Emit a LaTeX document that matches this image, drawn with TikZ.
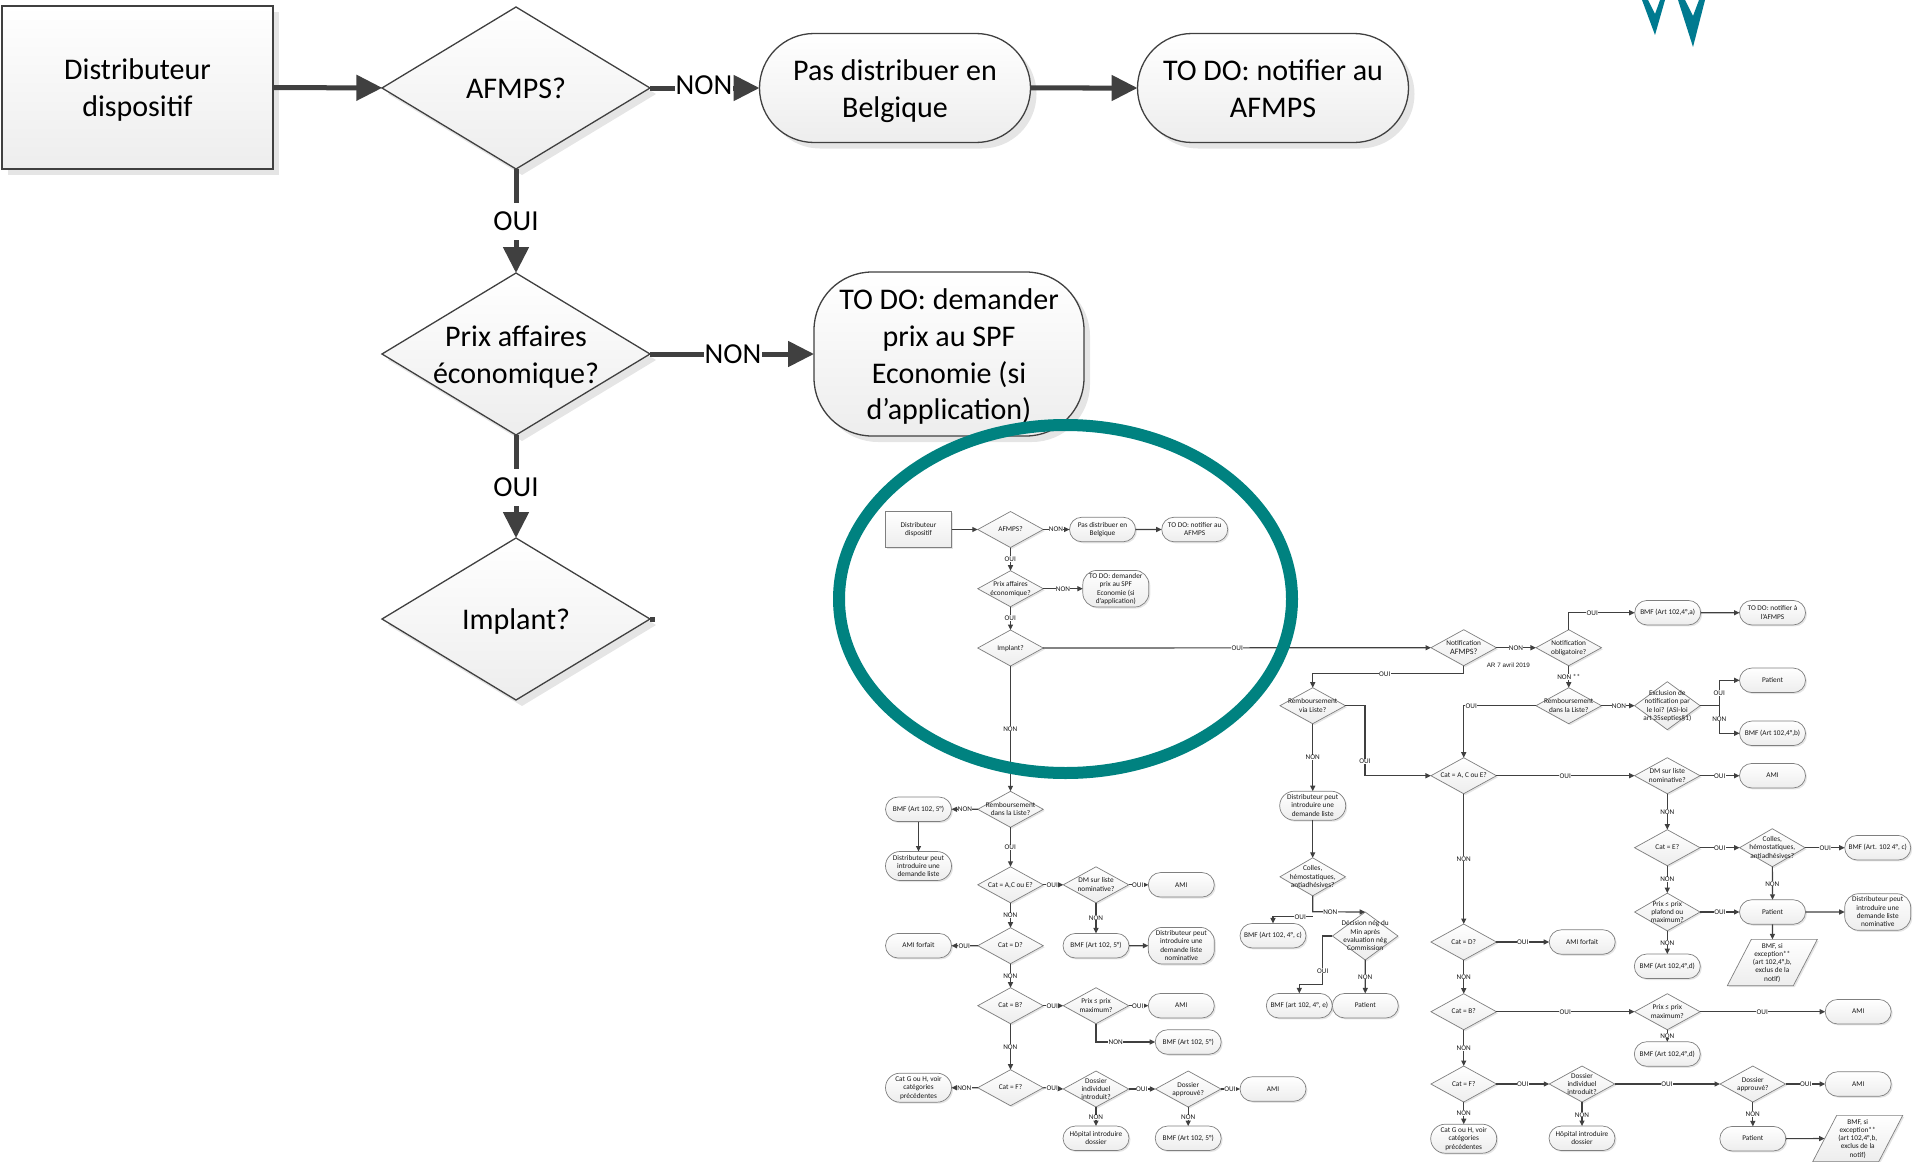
\documentclass[tikz,border=0pt]{standalone}
\usepackage{fontspec}
\usepackage{xcolor}
\setmainfont{Carlito}
\newfontfamily\arfont{Liberation Sans}
\usetikzlibrary{arrows.meta,shapes.geometric,shapes.misc,shadows}
\definecolor{CTEAL}{HTML}{008280}
\definecolor{CMARK}{HTML}{007A90}
\definecolor{CLINE}{HTML}{404040}
\definecolor{CEDGE}{HTML}{7F7F7F}
\definecolor{CFILL}{HTML}{EDEDED}
% text that does not change the size of its shape
\newcommand{\nt}[1]{\makebox[0pt]{\smash{\raisebox{-0.32em}{$\vcenter{\hbox{\begin{tabular}{@{}c@{}}#1\end{tabular}}}$}}}}
\tikzset{
  bigshape/.style={draw=CLINE,line width=1.3pt,top color=white,bottom color=CFILL,inner sep=0pt,outer sep=0pt,
    font=\fontsize{30}{36.6}\selectfont,drop shadow={shadow xshift=6pt,shadow yshift=-6pt,fill=black!10,opacity=1}},
  bigbox/.style={bigshape,shape=rectangle,minimum width=271pt,minimum height=163pt},
  bigdia/.style={bigshape,shape=diamond,minimum width=268pt,minimum height=162pt},
  bigend/.style={bigshape,shape=rounded rectangle,minimum width=271pt,minimum height=109pt},
  bigtall/.style={bigshape,shape=rectangle,rounded corners=58pt,minimum width=270pt,minimum height=164pt},
  bigline/.style={-{Triangle[length=26pt,width=25pt]},line width=5pt,draw=CLINE},
  biglab/.style={fill=white,inner sep=1pt,minimum height=37pt,font=\fontsize{29}{30}\selectfont},
  smallshape/.style={draw=CEDGE,line width=0.7pt,top color=white,bottom color=CFILL,inner sep=0pt,outer sep=0pt,
    text=black!90,font=\fontsize{7.3}{8.2}\selectfont,drop shadow={shadow xshift=1.5pt,shadow yshift=-1.5pt,fill=black!10,opacity=1}},
  sbox/.style={smallshape,shape=rectangle,minimum width=66pt,minimum height=36pt},
  sdia/.style={smallshape,shape=diamond,minimum width=65.5pt,minimum height=36pt},
  send/.style={smallshape,shape=rounded rectangle,minimum width=66pt,minimum height=24.5pt},
  smid/.style={smallshape,shape=rounded rectangle,minimum width=66pt,minimum height=29pt},
  stall/.style={smallshape,shape=rectangle,rounded corners=14pt,minimum width=66pt,minimum height=36.6pt},
  spara/.style={smallshape,shape=trapezium,trapezium left angle=62.6,trapezium right angle=117.4,inner xsep=21pt,inner ysep=23.15pt},
  sline/.style={-{Triangle[length=5.5pt,width=5pt]},line width=1.2pt,draw=CLINE},
  slab/.style={fill=white,inner sep=0.4pt,text=black!90,font=\fontsize{7.2}{8}\selectfont},
}
\begin{document}
\begin{tikzpicture}
\useasboundingbox (0pt,0pt) rectangle (1913pt,-1161.5pt);

% big flow
\node (n0) [bigbox,at={(137.5pt,-87.5pt)}] {\nt{Distributeur\\dispositif}};
\node (n1) [bigdia,at={(516pt,-88pt)}] {\nt{AFMPS?}};
\node (n2) [bigend,at={(895pt,-88pt)}] {\nt{Pas distribuer en\\Belgique}};
\node (n3) [bigend,at={(1273pt,-88pt)}] {\nt{TO DO: notifier au\\AFMPS}};
\node (n4) [bigdia,at={(516pt,-354pt)}] {\nt{Prix affaires\\économique?}};
\node (n5) [bigtall,at={(949pt,-354pt)}] {\nt{TO DO: demander\\prix au SPF\\Economie (si\\d’application)}};
\node (n6) [bigdia,at={(516pt,-619pt)}] {\nt{Implant?}};
\coordinate (n7) at (655pt,-619pt);

\path [bigline](n0)--(n1);
\path [bigline](n1)--(n2);
\path [bigline](n2)--(n3);
\path [bigline](n1)--(n4);
\path [bigline](n4)--(n5);
\path [bigline](n4)--(n6);
\path [line width=5pt,draw=CLINE](n6.east)--(n7);

\node (n12) [biglab,at={(704pt,-85pt)}] {NON};
\node (n14) [biglab,at={(516pt,-221pt)}] {OUI};
\node (n45) [biglab,at={(733pt,-354pt)}] {NON};
\node (n46) [biglab,at={(516pt,-487pt)}] {OUI};

% small flow, left
\node (a0) [sbox,at={(918.5pt,-529.5pt)}] {\nt{Distributeur\\dispositif}};
\node (a1) [sdia,at={(1010.5pt,-529.5pt)}] {\nt{AFMPS?}};
\node (a2) [send,at={(1102.5pt,-529.5pt)}] {\nt{Pas distribuer en\\Belgique}};
\node (a3) [send,at={(1194.7pt,-529.5pt)}] {\nt{TO DO: notifier au\\AFMPS}};
\node (a4) [sdia,at={(1010.5pt,-588.7pt)}] {\nt{Prix affaires\\économique?}};
\node (a5) [stall,at={(1115.8pt,-588.7pt)}] {\nt{TO DO: demander\\prix au SPF\\Economie (si\\d’application)}};
\node (a6) [sdia,at={(1010.5pt,-648pt)}] {\nt{Implant?}};
\node (a7) [sdia,at={(1010.5pt,-809.3pt)}] {\nt{Remboursement\\dans la Liste?}};
\node (a8) [send,at={(918.5pt,-809.3pt)}] {\nt{BMF (Art 102, 5°)}};
\node (a9) [smid,at={(918.5pt,-866pt)}] {\nt{Distributeur peut\\introduire une\\demande liste}};
\node (a10) [sdia,at={(1010.5pt,-884.8pt)}] {\nt{Cat = A,C ou E?}};
\node (a11) [sdia,at={(1096pt,-884.8pt)}] {\nt{DM sur liste\\nominative?}};
\node (a12) [send,at={(1181.3pt,-884.8pt)}] {\nt{AMI}};
\node (a13) [sdia,at={(1010.5pt,-945.7pt)}] {\nt{Cat = D?}};
\node (a14) [send,at={(918.5pt,-945.7pt)}] {\nt{AMI  forfait}};
\node (a15) [send,at={(1096pt,-945.7pt)}] {\nt{BMF (Art 102, 5°)}};
\node (a16) [stall,at={(1181.3pt,-945.7pt)}] {\nt{Distributeur peut\\introduire une\\demande liste\\nominative}};
\node (a17) [sdia,at={(1010.5pt,-1005.7pt)}] {\nt{Cat = B?}};
\node (a18) [sdia,at={(1096pt,-1005.7pt)}] {\nt{Prix  ≤ prix\\maximum?}};
\node (a19) [send,at={(1181.3pt,-1005.7pt)}] {\nt{AMI}};
\node (a20) [send,at={(1188.2pt,-1042pt)}] {\nt{BMF (Art 102, 5°)}};
\node (a21) [sdia,at={(1010.5pt,-1087.7pt)}] {\nt{Cat = F?}};
\node (a22) [smid,at={(918.5pt,-1087.7pt)}] {\nt{Cat G ou H, voir\\catégories\\précédentes}};
\node (a23) [sdia,at={(1096pt,-1089pt)}] {\nt{Dossier\\individuel\\introduit?}};
\node (a24) [sdia,at={(1188.2pt,-1089pt)}] {\nt{Dossier\\approuvé?}};
\node (a25) [send,at={(1273pt,-1089pt)}] {\nt{AMI}};
\node (a26) [send,at={(1096pt,-1138.3pt)}] {\nt{Hôpital introduire\\dossier}};
\node (a27) [send,at={(1188.2pt,-1138.3pt)}] {\nt{BMF (Art 102, 5°)}};

% small flow, right
\node (b0) [sdia,at={(1463.7pt,-647.7pt)}] {\nt{Notification\\{\fontsize{8.2}{8.2}\selectfont AFMPS?}}};
\node (b1) [sdia,at={(1568.7pt,-647.7pt)}] {\nt{Notification\\obligatoire?}};
\node (b2) [send,at={(1667.7pt,-612.7pt)}] {\nt{BMF (Art 102,4°,a)}};
\node (b3) [send,at={(1772.5pt,-612.7pt)}] {\nt{TO DO: notifier à\\l'AFMPS}};
\node (b4) [sdia,at={(1312.7pt,-705.7pt)}] {\nt{Remboursement\\via Liste?}};
\node (b5) [sdia,at={(1568.7pt,-705.7pt)}] {\nt{Remboursement\\dans la Liste?}};
\node (b6) [sdia,minimum height=48pt,at={(1667.3pt,-705.7pt)}] {\nt{Exclusion de\\notification par\\le loi? (ASI-loi\\art 35septies§1)}};
\node (b7) [send,at={(1772.5pt,-680.3pt)}] {\nt{Patient}};
\node (b8) [send,at={(1772.5pt,-733.3pt)}] {\nt{BMF (Art 102,4°,b)}};
\node (b9) [sdia,at={(1463.7pt,-775.7pt)}] {\nt{Cat = A, C ou E?}};
\node (b10) [sdia,at={(1667.3pt,-775.7pt)}] {\nt{DM sur liste\\nominative?}};
\node (b11) [send,at={(1772.5pt,-775.7pt)}] {\nt{AMI}};
\node (b12) [smid,at={(1312.7pt,-805.7pt)}] {\nt{Distributeur peut\\introduire une\\demande liste}};
\node (b13) [sdia,minimum height=38pt,at={(1312.7pt,-876.8pt)}] {\nt{Colles,\\hémostatiques,\\antiadhésives?}};
\node (b14) [send,at={(1273pt,-935.7pt)}] {\nt{BMF (Art 102, 4°, c)}};
\node (b15) [sdia,minimum height=48pt,at={(1365.2pt,-936pt)}] {\nt{Décision nég du\\Min après\\evaluation nég\\Commission}};
\node (b16) [send,at={(1299.3pt,-1005.7pt)}] {\nt{BMF (art 102, 4°, e)}};
\node (b17) [send,at={(1365.3pt,-1005.7pt)}] {\nt{Patient}};
\node (b18) [sdia,at={(1667.3pt,-847.7pt)}] {\nt{Cat = E?}};
\node (b19) [sdia,minimum height=38pt,at={(1772.3pt,-847.7pt)}] {\nt{Colles,\\hémostatiques,\\antiadhésives?}};
\node (b20) [send,at={(1877.7pt,-847.7pt)}] {\nt{BMF (Art. 102 4°, c)}};
\node (b21) [sdia,minimum height=37.7pt,at={(1667.3pt,-912pt)}] {\nt{Prix ≤ prix\\plafond ou\\maximum?}};
\node (b22) [send,at={(1772.5pt,-912pt)}] {\nt{Patient}};
\node (b23) [stall,at={(1877.7pt,-912pt)}] {\nt{Distributeur peut\\introduire une\\demande liste\\nominative}};
\node (b24) [send,at={(1667.3pt,-966.3pt)}] {\nt{BMF (Art 102,4°,d)}};
\node (b25) [spara,at={(1772.3pt,-962.5pt)}] {\nt{BMF, si\\exception**\\(art 102,4°,b,\\exclus de la\\notif)}};
\node (b26) [sdia,at={(1463.7pt,-942pt)}] {\nt{Cat = D?}};
\node (b27) [send,at={(1582.2pt,-942pt)}] {\nt{AMI forfait}};
\node (b28) [sdia,at={(1463.7pt,-1011.7pt)}] {\nt{Cat = B?}};
\node (b29) [sdia,at={(1667.3pt,-1011.7pt)}] {\nt{Prix ≤ prix\\maximum?}};
\node (b30) [send,at={(1858.2pt,-1011.7pt)}] {\nt{AMI}};
\node (b31) [send,at={(1667.3pt,-1054pt)}] {\nt{BMF (Art 102,4°,d)}};
\node (b32) [sdia,at={(1463.7pt,-1084pt)}] {\nt{Cat = F?}};
\node (b33) [sdia,at={(1582pt,-1084pt)}] {\nt{Dossier\\individuel\\introduit?}};
\node (b34) [sdia,at={(1752.8pt,-1084pt)}] {\nt{Dossier\\approuvé?}};
\node (b35) [send,at={(1858.2pt,-1084pt)}] {\nt{AMI}};
\node (b36) [smid,at={(1463.7pt,-1138.7pt)}] {\nt{Cat G ou H, voir\\catégories\\précédentes}};
\node (b37) [send,at={(1582pt,-1138.3pt)}] {\nt{Hôpital introduire\\dossier}};
\node (b38) [send,at={(1752.8pt,-1138.7pt)}] {\nt{Patient}};
\node (b39) [spara,at={(1857.7pt,-1138.5pt)}] {\nt{BMF, si\\exception**\\(art 102,4°,b,\\exclus de la\\notif)}};
\node (ar) [font=\arfont\fontsize{6.3}{7}\selectfont,text=black!90,inner sep=0pt,at={(1508.3pt,-665pt)}] {AR 7 avril 2019};

\coordinate (c0) at (1463.7pt,-673.7pt);
\coordinate (c1) at (1719.3pt,-705.7pt);
\coordinate (c2) at (1365pt,-705.7pt);
\coordinate (c3) at (1312.7pt,-911.7pt);
\coordinate (c4) at (1312.7pt,-916.7pt);
\coordinate (c5) at (1322.7pt,-984.7pt);

\path [sline](a0)--(a1);
\path [sline](a1)--(a2);
\path [sline](a2)--(a3);
\path [sline](a1)--(a4);
\path [sline](a4)--(a5);
\path [sline](a4)--(a6);
\path [sline](a6)--(a7);
\path [sline](a7)--(a8);
\path [sline](a8)--(a9);
\path [sline](a7)--(a10);
\path [sline](a10)--(a11);
\path [sline](a11)--(a12);
\path [sline](a11)--(a15);
\path [sline](a15)--(a16);
\path [sline](a10)--(a13);
\path [sline](a13)--(a14);
\path [sline](a13)--(a17);
\path [sline](a17)--(a18);
\path [sline](a18)--(a19);
\path [sline](a18.south)|-(a20.west);
\path [sline](a17)--(a21);
\path [sline](a21)--(a22);
\path [sline](a21.east)--(a23.west);
\path [sline](a23)--(a24);
\path [sline](a24)--(a25);
\path [sline](a23)--(a26);
\path [sline](a24)--(a27);

\path [sline](a6)--(b0);
\path [sline](b0)--(b1);
\path [sline](b0.south)--(c0)-|(b4.north);
\path [sline](b1.north)|-(b2.west);
\path [sline](b2)--(b3);
\path [sline](b1)--(b5);
\path [sline](b5)--(b6);
\path [-,line width=1.2pt,draw=CLINE](b6.east)--(c1);
\path [sline](c1)|-(b7.west);
\path [sline](c1)|-(b8.west);
\path [sline](b5.west)-|(b9.north);
\path [sline](b4.east)--(c2)|-(b9.west);
\path [sline](b4)--(b12);
\path [sline](b12)--(b13);
\path [sline](b13.south)--(c3)--(b15.north);
\path [sline](c4)-|(b14.north);
\path [sline](b15.west)-|(c5)-|(b16.north);
\path [sline](b15)--(b17);
\path [sline](b9)--(b10);
\path [sline](b10)--(b11);
\path [sline](b10)--(b18);
\path [sline](b18)--(b19);
\path [sline](b19)--(b20);
\path [sline](b18)--(b21);
\path [sline](b19)--(b22);
\path [sline](b21)--(b22);
\path [sline](b22)--(b23);
\path [sline](b21)--(b24);
\path [sline](b22)--(b25);
\path [sline](b9)--(b26);
\path [sline](b26)--(b27);
\path [sline](b26)--(b28);
\path [sline](b28)--(b29);
\path [sline](b29)--(b30);
\path [sline](b29)--(b31);
\path [sline](b28)--(b32);
\path [sline](b32)--(b33);
\path [sline](b33)--(b34);
\path [sline](b34)--(b35);
\path [sline](b32)--(b36);
\path [sline](b33)--(b37);
\path [sline](b34)--(b38);
\path [sline](b38)--(b39);

\node (l0) [slab,at={(1056pt,-528.7pt)}] {NON};
\node (l1) [slab,at={(1010.3pt,-559pt)}] {OUI};
\node (l2) [slab,at={(1063pt,-588.7pt)}] {NON};
\node (l3) [slab,at={(1010.3pt,-618pt)}] {OUI};
\node (l4) [slab,at={(1010.3pt,-728.7pt)}] {NON};
\node (l5) [slab,at={(1237.3pt,-648pt)}] {OUI};
\node (l6) [slab,at={(965pt,-809.3pt)}] {NON};
\node (l7) [slab,at={(1010.3pt,-847.3pt)}] {OUI};
\node (l8) [slab,at={(1052.3pt,-884.8pt)}] {OUI};
\node (l9) [slab,at={(1137.7pt,-884.8pt)}] {OUI};
\node (l10) [slab,at={(1010.3pt,-915.3pt)}] {NON};
\node (l11) [slab,at={(1096pt,-917.7pt)}] {NON};
\node (l12) [slab,at={(964.3pt,-945.7pt)}] {OUI};
\node (l13) [slab,at={(1010.3pt,-975.7pt)}] {NON};
\node (l14) [slab,at={(1052.3pt,-1005.7pt)}] {OUI};
\node (l15) [slab,at={(1137.7pt,-1005.7pt)}] {OUI};
\node (l16) [slab,at={(1115.7pt,-1042pt)}] {NON};
\node (l17) [slab,at={(1010.3pt,-1046.7pt)}] {NON};
\node (l18) [slab,at={(964.3pt,-1087.7pt)}] {NON};
\node (l19) [slab,at={(1052.3pt,-1087.7pt)}] {OUI};
\node (l20) [slab,at={(1141.7pt,-1089pt)}] {OUI};
\node (l21) [slab,at={(1230pt,-1089pt)}] {OUI};
\node (l22) [slab,at={(1096pt,-1117.3pt)}] {NON};
\node (l23) [slab,at={(1188.2pt,-1117.3pt)}] {NON};

\node (l24) [slab,at={(1516pt,-647.7pt)}] {NON};
\node (l25) [slab,at={(1384.7pt,-673.7pt)}] {OUI};
\node (l26) [slab,at={(1568.7pt,-676.7pt)}] {NON **};
\node (l27) [slab,at={(1471.3pt,-705.7pt)}] {OUI};
\node (l28) [slab,at={(1365pt,-761.3pt)}] {OUI};
\node (l29) [slab,at={(1312.7pt,-757.3pt)}] {NON};
\node (l30) [slab,at={(1565.3pt,-775.7pt)}] {OUI};
\node (l31) [slab,at={(1463.7pt,-858.7pt)}] {NON};
\node (l32) [slab,at={(1330.3pt,-911.7pt)}] {NON};
\node (l33) [slab,at={(1300.3pt,-916.7pt)}] {OUI};
\node (l34) [slab,at={(1322.7pt,-970.7pt)}] {OUI};
\node (l35) [slab,at={(1365.2pt,-976.7pt)}] {NON};
\node (l36) [slab,at={(1592.3pt,-612.7pt)}] {OUI};
\node (l37) [slab,at={(1619pt,-705.7pt)}] {NON};
\node (l38) [slab,at={(1719.3pt,-693pt)}] {OUI};
\node (l39) [slab,at={(1719.3pt,-718.7pt)}] {NON};
\node (l40) [slab,at={(1719.7pt,-775.7pt)}] {OUI};
\node (l41) [slab,at={(1667.3pt,-811.7pt)}] {NON};
\node (l42) [slab,at={(1719.7pt,-847.7pt)}] {OUI};
\node (l43) [slab,at={(1825.3pt,-847.7pt)}] {OUI};
\node (l44) [slab,at={(1667.3pt,-879.3pt)}] {NON};
\node (l45) [slab,at={(1772.3pt,-883.7pt)}] {NON};
\node (l46) [slab,at={(1720pt,-912pt)}] {OUI};
\node (l47) [slab,at={(1667.3pt,-942.7pt)}] {NON};
\node (l48) [slab,at={(1522.7pt,-942pt)}] {OUI};
\node (l49) [slab,at={(1463.7pt,-976.7pt)}] {NON};
\node (l50) [slab,at={(1565.3pt,-1011.7pt)}] {OUI};
\node (l51) [slab,at={(1762.3pt,-1011.7pt)}] {OUI};
\node (l52) [slab,at={(1667.3pt,-1035.7pt)}] {NON};
\node (l53) [slab,at={(1463.7pt,-1048pt)}] {NON};
\node (l54) [slab,at={(1522.7pt,-1084pt)}] {OUI};
\node (l55) [slab,at={(1667pt,-1084pt)}] {OUI};
\node (l56) [slab,at={(1805.7pt,-1084pt)}] {OUI};
\node (l57) [slab,at={(1463.7pt,-1113pt)}] {NON};
\node (l58) [slab,at={(1582pt,-1114.7pt)}] {NON};
\node (l59) [slab,at={(1752.7pt,-1114pt)}] {NON};

% ring and top marks
\node (ring) [shape=ellipse,draw=CTEAL,line width=12pt,inner sep=0pt,minimum width=453pt,minimum height=348pt,at={(1065.5pt,-599pt)}] {};
\fill [CMARK] (1642pt,0pt)--(1655pt,-35pt)--(1665pt,0pt)--(1660pt,0pt)--(1655pt,-14pt)--(1648pt,0pt)--cycle;
\fill [CMARK] (1678pt,0pt)--(1693pt,-47pt)--(1705pt,0pt)--(1699pt,0pt)--(1693pt,-16pt)--(1685pt,0pt)--cycle;
\end{tikzpicture}
\end{document}
